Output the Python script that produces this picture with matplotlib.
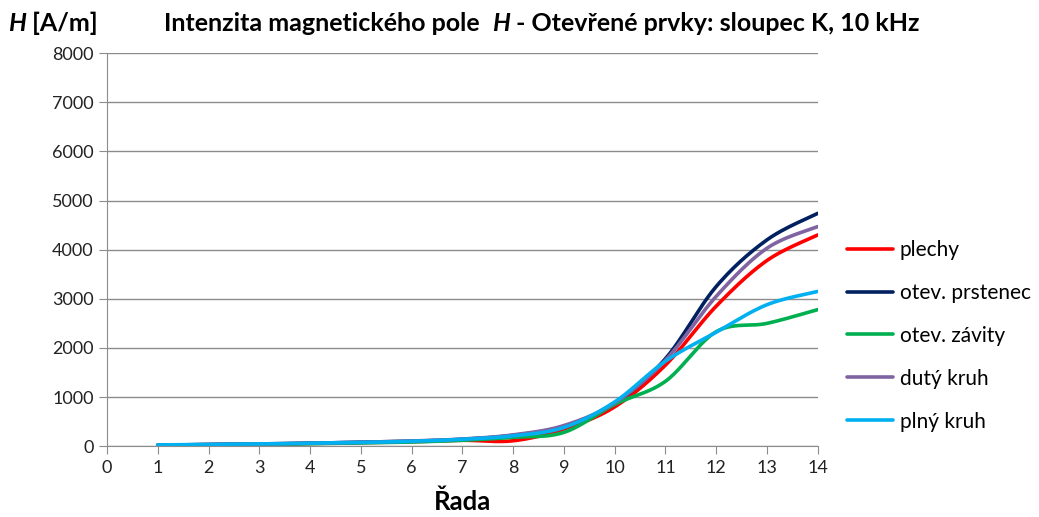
import numpy as np
import matplotlib
matplotlib.use("Agg")
import matplotlib.pyplot as plt
from matplotlib.offsetbox import TextArea, HPacker, AnchoredOffsetbox

plt.rcParams['font.family'] = ['Lato', 'DejaVu Sans']

# data
rada = [1, 2, 3, 4, 5, 6, 7, 8, 9, 10, 11, 12, 13, 14]
plechy = [20, 30, 40, 55, 70, 90, 120, 110, 350, 800, 1650, 2850, 3780, 4300]
prstenec = [20, 35, 45, 60, 80, 100, 140, 220, 400, 870, 1780, 3250, 4200, 4740]
zavity = [15, 25, 35, 50, 65, 85, 120, 180, 280, 850, 1320, 2330, 2500, 2780]
duty = [20, 35, 45, 60, 80, 105, 145, 230, 420, 880, 1750, 3050, 4030, 4470]
plny = [25, 35, 45, 60, 75, 100, 140, 210, 380, 900, 1730, 2320, 2880, 3150]

names = ["plechy", "otev. prstenec", "otev. závity", "dutý kruh", "plný kruh"]
series = [plechy, prstenec, zavity, duty, plny]
colors = ["#FF0000", "#002060", "#00B050", "#8064A2", "#00B0F0"]


def smooth(x, y, n=24):
    # bezier smoothing like Excel "smoothed line"
    x = np.asarray(x, float)
    y = np.asarray(y, float)
    px = np.concatenate([[x[0]], x, [x[-1]]])
    py = np.concatenate([[y[0]], y, [y[-1]]])
    t = np.linspace(0, 1, n)
    xs, ys = [], []
    for i in range(1, len(px) - 2):
        p0 = np.array([px[i], py[i]])
        p3 = np.array([px[i + 1], py[i + 1]])
        p1 = p0 + (np.array([px[i + 1], py[i + 1]]) - np.array([px[i - 1], py[i - 1]])) / 6
        p2 = p3 - (np.array([px[i + 2], py[i + 2]]) - np.array([px[i], py[i]])) / 6
        b = ((1 - t) ** 3)[:, None] * p0 + (3 * (1 - t) ** 2 * t)[:, None] * p1 \
            + (3 * (1 - t) * t ** 2)[:, None] * p2 + (t ** 3)[:, None] * p3
        xs.extend(b[:, 0])
        ys.extend(b[:, 1])
    return xs, ys


fig = plt.figure(figsize=(10.39, 5.17), dpi=100)
ax = fig.add_axes([0.103, 0.137, 0.684, 0.760])

for name, vals, c in zip(names, series, colors):
    sx, sy = smooth(rada, vals)
    ax.plot(sx, sy, color=c, lw=2.6, label=name, solid_capstyle='round')

ax.set_xlim(0, 14)
ax.set_ylim(0, 8000)
ax.set_xticks(range(0, 15))
ax.set_yticks(range(0, 8001, 1000))
ax.grid(axis='y', color='#8c8c8c', lw=1)
ax.set_axisbelow(True)
for s in ['top', 'right']:
    ax.spines[s].set_visible(False)
for s in ['left', 'bottom']:
    ax.spines[s].set_color('#8c8c8c')
ax.tick_params(axis='both', colors='#8c8c8c', labelcolor='#222222',
               labelsize=13, length=6, direction='out')
ax.tick_params(axis='x', pad=4)

ax.set_xlabel("Řada", fontsize=18.5, fontweight='bold', labelpad=10)

big = 18
# y axis label at top-left
ylab = HPacker(children=[
    TextArea("H", textprops=dict(fontsize=big, fontweight='bold', style='italic')),
    TextArea(" [A/m]", textprops=dict(fontsize=big, fontweight='bold')),
], align="baseline", pad=0, sep=0)
fig.add_artist(AnchoredOffsetbox(loc='center left', child=ylab, frameon=False,
                                 bbox_to_anchor=(0.008, 0.955),
                                 bbox_transform=fig.transFigure, pad=0, borderpad=0))

title = HPacker(children=[
    TextArea("Intenzita magnetického pole  ", textprops=dict(fontsize=big, fontweight='bold')),
    TextArea("H", textprops=dict(fontsize=big, fontweight='bold', style='italic')),
    TextArea(" - Otevřené prvky: sloupec K, 10 kHz", textprops=dict(fontsize=big, fontweight='bold')),
], align="baseline", pad=0, sep=0)
fig.add_artist(AnchoredOffsetbox(loc='center left', child=title, frameon=False,
                                 bbox_to_anchor=(0.158, 0.955),
                                 bbox_transform=fig.transFigure, pad=0, borderpad=0))

fig.legend(loc='upper left', bbox_to_anchor=(0.815, 0.536), frameon=False,
           fontsize=15, handlelength=2.2, handletextpad=0.35, labelspacing=1.1,
           borderaxespad=0, borderpad=0)

fig.savefig("out.png", dpi=100)
